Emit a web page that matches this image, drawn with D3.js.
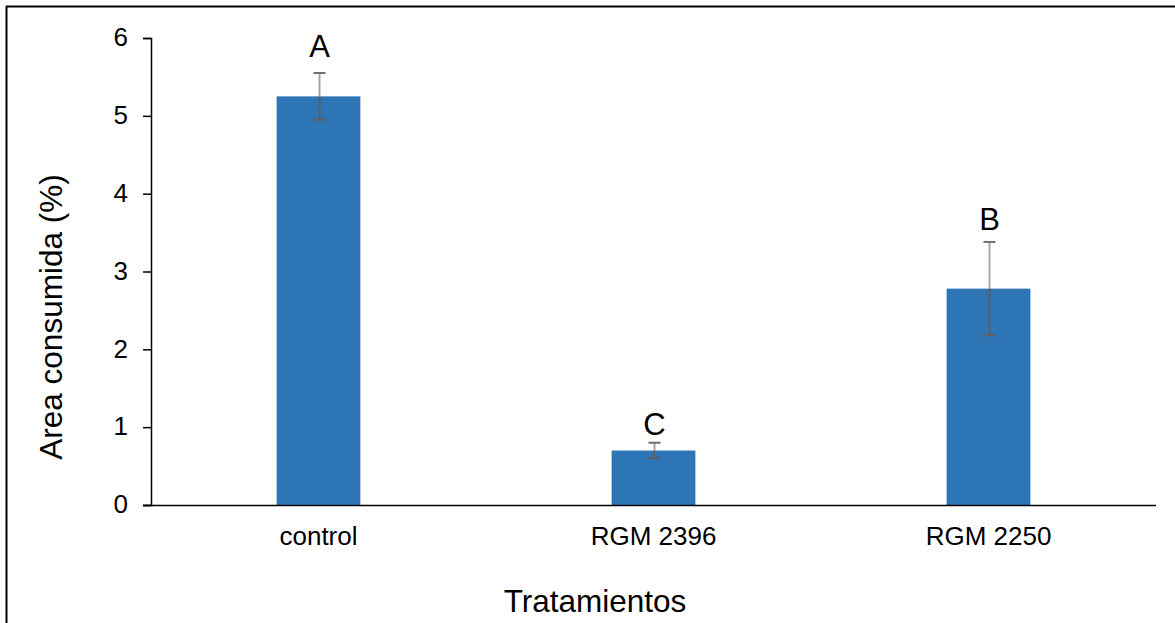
<!DOCTYPE html>
<html><head><meta charset="utf-8">
<script src="https://cdn.jsdelivr.net/npm/d3@7"></script>
<style>body{margin:0;background:#fff;} svg{display:block;font-family:Arial,"Liberation Sans",sans-serif;}</style>
</head><body><svg id="c" width="1175" height="623"></svg>
<script>
const categories = ["control", "RGM 2396", "RGM 2250"];
const values = [5.25, 0.70, 2.78];
const errors = [0.30, 0.10, 0.60];
const letters = ["A", "C", "B"];
const letterValues = [5.76, 0.90, 3.53];
const yTicks = [0, 1, 2, 3, 4, 5, 6];

const FONT = "Arial, 'Liberation Sans', sans-serif";
const svg = d3.select("#c");
// outer frame
svg.append("line").attr("x1",6).attr("x2",1175).attr("y1",6.5).attr("y2",6.5).attr("stroke","#000").attr("stroke-width",2);
svg.append("line").attr("x1",6.5).attr("x2",6.5).attr("y1",6).attr("y2",623).attr("stroke","#000").attr("stroke-width",2);

const x = d3.scaleBand().domain(categories).range([151, 1156]).paddingInner(0.75).paddingOuter(0.375);
const y = d3.scaleLinear().domain([0, 6]).range([505, 38]);

const gy = svg.append("g").attr("transform","translate(151,0)")
  .call(d3.axisLeft(y).tickValues(yTicks).tickSize(8).tickPadding(15).tickFormat(d3.format("d")));
gy.select(".domain").attr("stroke","#000").attr("stroke-width",1.5).attr("d","M-8,38.5H0.5V505.5H-8");
gy.selectAll(".tick line").attr("stroke","#000").attr("stroke-width",1.5);
gy.selectAll(".tick text").attr("font-size",26).attr("fill","#000").attr("font-family",FONT).attr("dy","0.3em");

// bars
svg.selectAll("rect.bar").data(values).join("rect").attr("class","bar")
  .attr("x",(d,i)=>x(categories[i])).attr("width",x.bandwidth())
  .attr("y",d=>y(d)).attr("height",d=>y(0)-y(d)).attr("fill","#2E75B6");

// x axis line
svg.append("line").attr("x1",143).attr("x2",1156).attr("y1",505.5).attr("y2",505.5).attr("stroke","#000").attr("stroke-width",1.5);

// x labels
svg.selectAll("text.xl").data(categories).join("text").attr("class","xl")
  .attr("x",d=>x(d)+x.bandwidth()/2).attr("y",545).attr("text-anchor","middle")
  .attr("font-size",26).attr("fill","#000").text(d=>d);

// error bars
values.forEach((v,i)=>{
  const cx = Math.round(x(categories[i])+x.bandwidth()/2)+0.5;
  const top = y(v+errors[i]), bot = y(v-errors[i]), mid = y(v);
  svg.append("line").attr("x1",cx).attr("x2",cx).attr("y1",top).attr("y2",mid).attr("stroke","#a6a6a6").attr("stroke-width",2);
  svg.append("line").attr("x1",cx).attr("x2",cx).attr("y1",mid).attr("y2",bot).attr("stroke","#5f5f5f").attr("stroke-width",2);
  svg.append("line").attr("x1",cx-6).attr("x2",cx+6).attr("y1",top).attr("y2",top).attr("stroke","#6e6e6e").attr("stroke-width",2);
  svg.append("line").attr("x1",cx-6).attr("x2",cx+6).attr("y1",bot).attr("y2",bot).attr("stroke","#5f5f5f").attr("stroke-width",2);
  svg.append("text").attr("x",cx).attr("y",y(letterValues[i])).attr("text-anchor","middle").attr("font-size",31).attr("fill","#000").text(letters[i]);
});

// axis titles
svg.append("text").attr("transform","translate(62,317) rotate(-90)").attr("text-anchor","middle").attr("font-size",31.5).attr("fill","#000").text("Area consumida (%)");
svg.append("text").attr("x",595).attr("y",612).attr("text-anchor","middle").attr("font-size",31.5).attr("fill","#000").text("Tratamientos");
</script></body></html>
